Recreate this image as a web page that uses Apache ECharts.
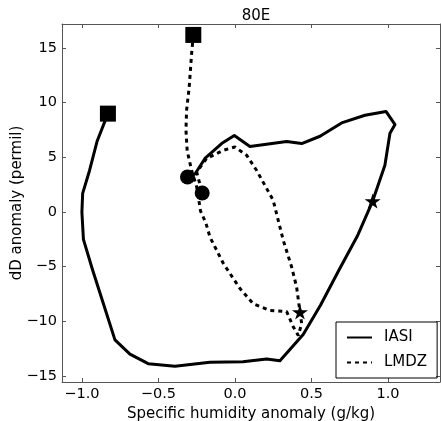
<!DOCTYPE html>
<html>
<head>
<meta charset="utf-8">
<script src="https://cdn.jsdelivr.net/npm/echarts@6/dist/echarts.min.js"></script>
<style>
  html, body { margin: 0; padding: 0; background: #fff; }
  #chart { width: 441px; height: 421px; }
</style>
</head>
<body>
<div id="chart"></div>
<script>
// values
const iasiX = [-0.83, -0.9, -0.95, -0.995, -1.0, -0.99, -0.93, -0.85, -0.784, -0.686, -0.567, -0.392, -0.163, 0.052, 0.207, 0.294, 0.446, 0.56, 0.68, 0.8, 0.9, 0.98, 1.013, 1.046, 0.987, 0.85, 0.697, 0.556, 0.436, 0.338, 0.098, -0.004, -0.087, -0.196, -0.26, -0.31];
const iasiY = [9.0, 6.5, 3.8, 1.7, 0.0, -2.5, -5.3, -8.8, -11.7, -13.0, -13.87, -14.1, -13.75, -13.7, -13.45, -13.6, -11.2, -8.5, -5.3, -2.2, 1.0, 4.27, 7.2, 8.0, 9.2, 8.85, 8.15, 6.93, 6.26, 6.45, 6.0, 7.0, 6.26, 4.9, 3.5, 3.2];
const iasiStar = 20;

const lmdzX = [-0.272, -0.283, -0.299, -0.316, -0.32, -0.312, -0.283, -0.25, -0.235, -0.225, -0.19, -0.163, -0.076, 0.033, 0.12, 0.229, 0.338, 0.381, 0.414, 0.436, 0.425, 0.403, 0.37, 0.316, 0.25, 0.142, 0.076, 0.0, -0.076, -0.185, -0.25, -0.214];
const lmdzY = [16.2, 14.5, 11.4, 9.3, 7.5, 5.6, 3.8, 2.3, 1.0, 0.1, -1.0, -2.3, -4.7, -7.0, -8.4, -9.0, -9.1, -10.5, -11.3, -10.2, -9.15, -6.86, -5.0, -2.6, 1.07, 3.8, 5.2, 5.95, 5.65, 4.9, 3.66, 1.74];
const lmdzStar = 20;

const xTicks = [-1.0, -0.5, 0.0, 0.5, 1.0];
const yTicks = [-15, -10, -5, 0, 5, 10, 15];

const starPath = 'path://M50,0 L61,35 L98,35 L68,57 L79,91 L50,70 L21,91 L32,57 L2,35 L39,35 Z';
const font = 'DejaVu Sans';
const minus = s => String(s).replace('-', '\u2212');

const pairs = (xs, ys) => xs.map((x, i) => [x, ys[i]]);
const iasi = pairs(iasiX, iasiY);
const lmdz = pairs(lmdzX, lmdzY);

const markers = (pts, starIdx) => [
  { value: pts[0], symbol: 'rect', symbolSize: 16 },
  { value: pts[starIdx], symbol: starPath, symbolSize: [16, 15] },
  { value: pts[pts.length - 1], symbol: 'circle', symbolSize: 15 }
];

// mirrored axes on all four sides, ticks pointing in
const frameAxis = (ticks, extra) => Object.assign({
  type: 'value',
  axisLine: { show: true, onZero: false, lineStyle: { color: '#555', width: 1 } },
  axisTick: { show: true, inside: true, length: 4, lineStyle: { color: '#555' }, customValues: ticks },
  splitLine: { show: false }
}, extra);

const chart = echarts.init(document.getElementById('chart'));
chart.setOption({
  animation: false,
  title: {
    text: '80E', left: 251, top: 4, textAlign: 'center',
    textStyle: { fontFamily: font, fontSize: 15, fontWeight: 'normal', color: '#000' }
  },
  grid: { left: 62, right: 1, top: 24, bottom: 39, outerBoundsMode: 'none' },
  legend: {
    data: ['IASI', 'LMDZ'],
    orient: 'vertical',
    left: 336, top: 322,
    padding: [8, 10, 8, 10],
    itemWidth: 25, itemHeight: 14, itemGap: 10,
    borderColor: '#000', borderWidth: 1, borderRadius: 0,
    itemStyle: { opacity: 0 },
    textStyle: { fontFamily: font, fontSize: 15, color: '#000', padding: [0, 0, 0, 7] }
  },
  xAxis: [
    frameAxis(xTicks, {
      min: -1.13, max: 1.34,
      name: 'Specific humidity anomaly (g/kg)', nameLocation: 'middle', nameGap: 21,
      nameTextStyle: { fontFamily: font, fontSize: 15, color: '#000' },
      axisLabel: { fontFamily: font, fontSize: 14.5, color: '#000', margin: 5, customValues: xTicks,
        formatter: v => minus(v.toFixed(1)) }
    }),
    frameAxis(xTicks, {
      min: -1.13, max: 1.34, position: 'top',
      axisLabel: { show: false }
    })
  ],
  yAxis: [
    frameAxis(yTicks, {
      min: -15.55, max: 17.2,
      name: 'dD anomaly (permil)', nameLocation: 'middle', nameGap: 37, nameMoveOverlap: false,
      nameTextStyle: { fontFamily: font, fontSize: 15, color: '#000' },
      axisLabel: { fontFamily: font, fontSize: 14.5, color: '#000', margin: 5, customValues: yTicks,
        formatter: v => minus(v) }
    }),
    frameAxis(yTicks, {
      min: -15.55, max: 17.2, position: 'right',
      axisLabel: { show: false }
    })
  ],
  series: [
    {
      name: 'IASI', type: 'line', data: iasi, showSymbol: false, symbol: 'none',
      lineStyle: { color: '#000', width: 3, join: 'round' }, itemStyle: { color: '#000' }, z: 2
    },
    {
      name: 'LMDZ', type: 'line', data: lmdz, showSymbol: false, symbol: 'none',
      lineStyle: { color: '#000', width: 3, type: [4, 4] }, itemStyle: { color: '#000' }, z: 2
    },
    {
      name: 'IASI marks', type: 'scatter', data: markers(iasi, iasiStar),
      itemStyle: { color: '#000', opacity: 1 }, z: 3
    },
    {
      name: 'LMDZ marks', type: 'scatter', data: markers(lmdz, lmdzStar),
      itemStyle: { color: '#000', opacity: 1 }, z: 3
    }
  ]
});
</script>
</body>
</html>
